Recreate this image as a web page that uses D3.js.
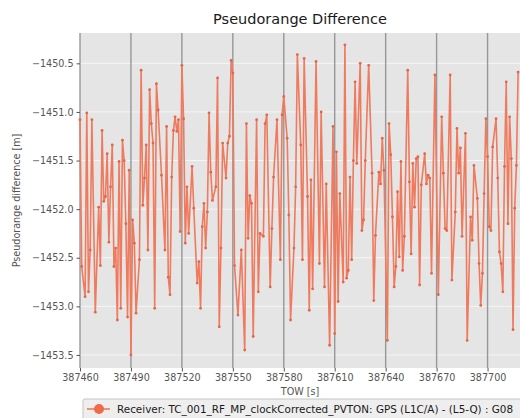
<!DOCTYPE html>
<html>
<head>
<meta charset="utf-8">
<script src="https://cdn.jsdelivr.net/npm/d3@7"></script>
<style>
    body { margin: 0; background: #ffffff; }
    #chart-area { width: 520px; height: 418px; overflow: hidden; }
    svg text { font-family: "DejaVu Sans", sans-serif; }
</style>
</head>
<body>
<div id="chart-area"></div>
<script>

// values
const TOW = [
    387460, 387461, 387463, 387464, 387465, 387466, 387467, 387469, 387471, 387472,
    387473, 387474, 387475, 387476, 387477, 387478, 387479, 387480, 387481, 387482,
    387483, 387484, 387485, 387486, 387487, 387488, 387489, 387490, 387491, 387492,
    387493, 387495, 387496, 387497, 387498, 387499, 387500, 387501, 387502, 387503,
    387504, 387505, 387506, 387508, 387510, 387511, 387512, 387513, 387514, 387515,
    387516, 387517, 387518, 387519, 387520, 387521, 387522, 387523, 387524, 387526,
    387527, 387529, 387530, 387531, 387532, 387533, 387534, 387535, 387536, 387537,
    387538, 387540, 387541, 387542, 387543, 387544, 387546, 387547, 387548, 387549,
    387550, 387551, 387553, 387555, 387557, 387558, 387559, 387560, 387561, 387562,
    387564, 387565, 387566, 387568, 387569, 387570, 387572, 387573, 387574, 387576,
    387578, 387579, 387580, 387582, 387583, 387584, 387586, 387587, 387588, 387590,
    387591, 387592, 387594, 387595, 387596, 387597, 387599, 387601, 387602, 387604,
    387605, 387607, 387609, 387610, 387611, 387612, 387613, 387615, 387616, 387617,
    387618, 387619, 387620, 387621, 387622, 387623, 387625, 387626, 387627, 387628,
    387630, 387632, 387633, 387634, 387636, 387637, 387638, 387639, 387641, 387642,
    387643, 387644, 387645, 387646, 387647, 387648, 387649, 387650, 387651, 387653,
    387654, 387655, 387656, 387657, 387658, 387659, 387660, 387661, 387663, 387664,
    387665, 387666, 387667, 387669, 387671, 387673, 387674, 387675, 387676, 387678,
    387679, 387681, 387682, 387683, 387684, 387685, 387687, 387688, 387690, 387691,
    387692, 387694, 387695, 387696, 387697, 387698, 387699, 387700, 387701, 387702,
    387703, 387705, 387706, 387707, 387708, 387709, 387710, 387711, 387712, 387713,
    387714, 387715, 387716, 387717, 387718
];

const DIFF = [
    -1451.08, -1452.59, -1452.90, -1451.01, -1452.85, -1452.42, -1451.08, -1453.06, -1451.98, -1452.58,
    -1451.19, -1451.92, -1451.87, -1451.43, -1452.34, -1451.77, -1451.34, -1452.59, -1452.40, -1453.14,
    -1451.51, -1453.02, -1451.29, -1451.50, -1452.15, -1453.11, -1451.60, -1453.50, -1452.11, -1452.35,
    -1453.07, -1452.52, -1450.57, -1451.96, -1451.68, -1451.34, -1452.42, -1450.77, -1451.12, -1451.32,
    -1453.02, -1450.71, -1450.98, -1451.65, -1452.42, -1451.15, -1452.70, -1452.88, -1451.67, -1451.19,
    -1451.05, -1451.20, -1451.08, -1452.23, -1450.52, -1451.07, -1452.35, -1451.77, -1452.25, -1451.56,
    -1451.99, -1452.76, -1452.54, -1453.02, -1452.18, -1451.94, -1452.40, -1452.03, -1451.01, -1451.62,
    -1451.91, -1451.77, -1450.65, -1453.21, -1452.40, -1451.32, -1451.68, -1451.32, -1451.25, -1450.47,
    -1450.60, -1452.58, -1453.09, -1452.42, -1453.45, -1451.12, -1452.30, -1451.86, -1451.94, -1453.31,
    -1451.08, -1452.85, -1452.25, -1452.28, -1451.12, -1451.03, -1452.80, -1452.20, -1451.67, -1451.08,
    -1452.52, -1451.03, -1450.84, -1451.27, -1452.06, -1453.14, -1452.40, -1451.77, -1450.41, -1451.34,
    -1452.52, -1450.45, -1451.87, -1453.04, -1451.70, -1452.82, -1450.48, -1452.56, -1451.00, -1452.80,
    -1451.74, -1453.40, -1451.15, -1453.28, -1451.41, -1452.95, -1451.84, -1452.75, -1450.31, -1452.71,
    -1452.63, -1451.67, -1452.52, -1451.50, -1450.69, -1451.53, -1450.50, -1452.22, -1452.11, -1451.50,
    -1450.52, -1451.63, -1452.94, -1452.27, -1451.62, -1451.74, -1451.27, -1451.60, -1453.35, -1451.12,
    -1451.44, -1452.08, -1452.80, -1452.59, -1451.82, -1452.49, -1451.51, -1452.63, -1452.28, -1450.57,
    -1451.72, -1452.46, -1451.53, -1451.98, -1451.48, -1451.46, -1452.78, -1451.75, -1451.43, -1451.74,
    -1451.65, -1451.68, -1452.66, -1450.62, -1452.88, -1451.05, -1451.63, -1452.20, -1452.22, -1450.62,
    -1452.73, -1452.03, -1451.17, -1451.63, -1451.37, -1452.28, -1451.22, -1453.35, -1452.08, -1452.32,
    -1451.55, -1451.89, -1452.56, -1452.99, -1452.66, -1451.84, -1451.07, -1451.46, -1452.18, -1452.22,
    -1451.36, -1451.07, -1451.68, -1452.44, -1452.56, -1452.85, -1451.56, -1450.69, -1452.15, -1451.05,
    -1451.48, -1453.24, -1451.99, -1451.55, -1450.59
];

const X_TICKS = [387460, 387490, 387520, 387550, 387580, 387610, 387640, 387670, 387700];
const Y_TICKS = [-1450.5, -1451.0, -1451.5, -1452.0, -1452.5, -1453.0, -1453.5];
const X_DOMAIN = [387460, 387778];
const Y_DOMAIN = [-1453.634, -1450.188];

const TITLE = "Pseudorange Difference";
const X_LABEL = "TOW [s]";
const Y_LABEL = "Pseudorange difference [m]";
const SERIES_LABEL = "Receiver: TC_001_RF_MP_clockCorrected_PVTON: GPS (L1C/A) - (L5-Q) : G08";


class PseudorangeChart {

    constructor(parentElement, tow, diff) {
        this.parentElement = parentElement;
        this.data = tow.map((t, i) => ({tow: t, diff: diff[i]}));
    }

    initVis() {
        let vis = this;

        vis.margin = {top: 33, left: 80};
        vis.width = 540;
        vis.height = 335;

        vis.svg = d3.select("#" + vis.parentElement).append("svg")
            .attr("width", 520)
            .attr("height", 418);

        vis.g = vis.svg.append("g")
            .attr("transform", "translate(" + vis.margin.left + "," + vis.margin.top + ")");

        // plot background
        vis.g.append("rect")
            .attr("width", vis.width)
            .attr("height", vis.height)
            .attr("fill", "#e5e5e5");

        vis.x = d3.scaleLinear()
            .domain(X_DOMAIN)
            .range([0, vis.width]);

        vis.y = d3.scaleLinear()
            .domain(Y_DOMAIN)
            .range([vis.height, 0]);

        vis.xAxis = d3.axisBottom(vis.x)
            .tickValues(X_TICKS)
            .tickFormat(d3.format("d"))
            .tickSize(3.5)
            .tickPadding(3);

        vis.yAxis = d3.axisLeft(vis.y)
            .tickValues(Y_TICKS)
            .tickFormat(d3.format(".1f"))
            .tickSize(3.5)
            .tickPadding(3);

        // horizontal grid (white)
        vis.g.append("g")
            .selectAll("line")
            .data(Y_TICKS)
            .enter()
            .append("line")
            .attr("x1", 0)
            .attr("x2", vis.width)
            .attr("y1", d => vis.y(d))
            .attr("y2", d => vis.y(d))
            .attr("stroke", "#f7f7f7")
            .attr("stroke-width", 0.9);

        // vertical grid (dark)
        vis.g.append("g")
            .selectAll("line")
            .data(X_TICKS)
            .enter()
            .append("line")
            .attr("x1", d => vis.x(d))
            .attr("x2", d => vis.x(d))
            .attr("y1", 0)
            .attr("y2", vis.height)
            .attr("stroke", "#979797")
            .attr("stroke-width", 1.4);

        vis.g.append("g")
            .attr("class", "x-axis")
            .attr("transform", "translate(0," + vis.height + ")");

        vis.g.append("g")
            .attr("class", "y-axis");

        vis.svg.append("text")
            .attr("x", 300)
            .attr("y", 24)
            .attr("text-anchor", "middle")
            .attr("font-size", "14.5px")
            .attr("fill", "#1a1a1a")
            .text(TITLE);

        vis.svg.append("text")
            .attr("x", 300)
            .attr("y", 394.5)
            .attr("text-anchor", "middle")
            .attr("font-size", "9.6px")
            .attr("fill", "#555555")
            .text(X_LABEL);

        vis.svg.append("text")
            .attr("transform", "translate(20," + (vis.margin.top + vis.height / 2) + ") rotate(-90)")
            .attr("text-anchor", "middle")
            .attr("font-size", "9.6px")
            .attr("fill", "#555555")
            .text(Y_LABEL);

        vis.wrangleData();
    }

    wrangleData() {
        let vis = this;
        vis.data.sort((a, b) => a.tow - b.tow);
        vis.updateVis();
    }

    updateVis() {
        let vis = this;

        vis.line = d3.line()
            .x(d => vis.x(d.tow))
            .y(d => vis.y(d.diff));

        vis.g.append("path")
            .datum(vis.data)
            .attr("fill", "none")
            .attr("stroke", "#ef7a5e")
            .attr("stroke-width", 1.6)
            .attr("stroke-linejoin", "round")
            .attr("d", vis.line);

        vis.g.selectAll(".pt")
            .data(vis.data)
            .enter()
            .append("circle")
            .attr("class", "pt")
            .attr("cx", d => vis.x(d.tow))
            .attr("cy", d => vis.y(d.diff))
            .attr("r", 1.4)
            .attr("fill", "#e4664a");

        vis.g.select(".x-axis").call(vis.xAxis);
        vis.g.select(".y-axis").call(vis.yAxis);

        vis.g.selectAll(".x-axis .domain, .y-axis .domain").remove();
        vis.g.selectAll(".x-axis .tick line, .y-axis .tick line").attr("stroke", "#555555");
        vis.g.selectAll(".x-axis .tick text, .y-axis .tick text")
            .attr("fill", "#555555")
            .attr("font-size", "9.6px");

        // legend below the axis
        let legend = vis.svg.append("g")
            .attr("transform", "translate(83,399)");

        legend.append("rect")
            .attr("width", 450)
            .attr("height", 26)
            .attr("rx", 2)
            .attr("fill", "#eeeeee")
            .attr("stroke", "#c4c4c4")
            .attr("stroke-width", 1);

        legend.append("line")
            .attr("x1", 4)
            .attr("x2", 27)
            .attr("y1", 10)
            .attr("y2", 10)
            .attr("stroke", "#ef7a5e")
            .attr("stroke-width", 1.6);

        legend.append("circle")
            .attr("cx", 16)
            .attr("cy", 10)
            .attr("r", 5)
            .attr("fill", "#f06a4a");

        legend.append("text")
            .attr("x", 34)
            .attr("y", 13.5)
            .attr("font-size", "10.4px")
            .attr("fill", "#1a1a1a")
            .text(SERIES_LABEL);
    }
}

let chart = new PseudorangeChart("chart-area", TOW, DIFF);
chart.initVis();

</script>
</body>
</html>
